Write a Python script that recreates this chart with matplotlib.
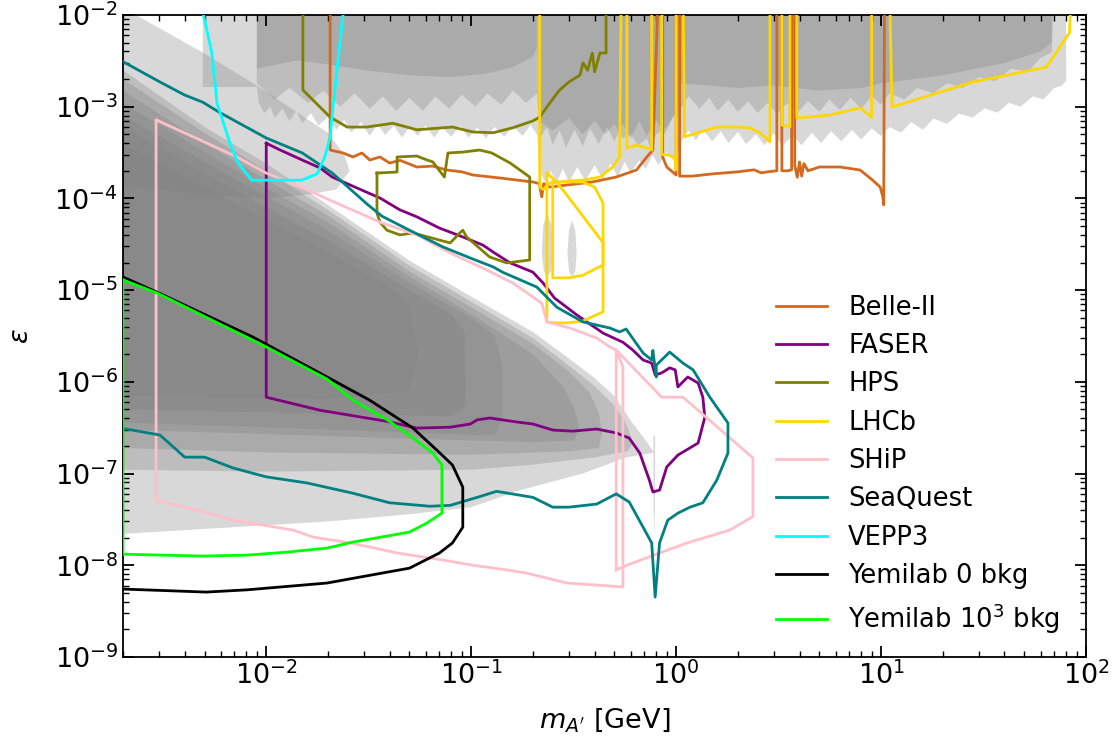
"""Dark photon (A') sensitivity plot: existing limits as grey bands and
projected reaches of several experiments as coloured contours."""
import matplotlib.pyplot as plt
import numpy as np
from matplotlib.ticker import LogLocator, NullFormatter

# ---------------------------------------------------------------------------
# excluded regions (grey), (mass [GeV], epsilon) pairs
# ---------------------------------------------------------------------------
TOP_LIGHT = [(0.0049, 0.02), (0.0049, 1.64e-3), (0.009, 1.64e-3), (0.0092, 1.1e-3), (0.0098, 8.5e-4),
             (0.0105, 1.0e-3), (0.011, 7.5e-4), (0.012, 9.5e-4), (0.013, 7.0e-4), (0.014, 9.0e-4),
             (0.015, 6.6e-4), (0.0165, 8.5e-4), (0.018, 6.2e-4), (0.02, 7.8e-4), (0.022, 5.6e-4),
             (0.024, 7.2e-4), (0.026, 5.2e-4), (0.029, 6.8e-4), (0.032, 4.8e-4), (0.035, 6.5e-4),
             (0.038, 4.9e-4), (0.042, 6.2e-4), (0.046, 4.6e-4), (0.05, 6.0e-4), (0.055, 4.8e-4),
             (0.06, 6.3e-4), (0.066, 4.6e-4), (0.072, 6.0e-4), (0.08, 4.7e-4), (0.088, 6.2e-4),
             (0.097, 4.6e-4), (0.107, 5.9e-4), (0.118, 4.5e-4), (0.13, 6.0e-4), (0.145, 4.7e-4),
             (0.16, 6.1e-4), (0.178, 4.8e-4), (0.195, 6.3e-4), (0.21, 4.9e-4), (0.215, 2.0e-4),
             (0.23, 1.5e-4), (0.245, 2.0e-4), (0.26, 1.45e-4), (0.28, 2.1e-4), (0.3, 1.5e-4),
             (0.33, 2.2e-4), (0.36, 1.55e-4), (0.4, 2.3e-4), (0.44, 1.6e-4), (0.48, 2.4e-4),
             (0.52, 1.7e-4), (0.56, 2.5e-4), (0.6, 1.9e-4), (0.66, 2.6e-4), (0.71, 2.1e-4),
             (0.77, 3.0e-4), (0.82, 2.3e-4), (0.9, 3.2e-4), (0.97, 2.6e-4), (1.03, 3.4e-4),
             (1.08, 4.5e-4), (1.15, 5.5e-4), (1.25, 4.3e-4), (1.35, 5.6e-4), (1.5, 4.2e-4),
             (1.65, 5.4e-4), (1.8, 4.0e-4), (2.0, 5.3e-4), (2.2, 3.9e-4), (2.45, 5.0e-4),
             (2.7, 3.8e-4), (3.0, 5.1e-4), (3.3, 3.7e-4), (3.7, 4.9e-4), (4.1, 3.8e-4),
             (4.6, 5.2e-4), (5.1, 4.0e-4), (5.7, 5.4e-4), (6.4, 4.2e-4), (7.2, 5.6e-4),
             (8.0, 4.4e-4), (9.0, 5.8e-4), (10.0, 4.8e-4), (11.0, 6.0e-4), (12.5, 5.2e-4),
             (14, 6.8e-4), (16, 5.6e-4), (18, 7.4e-4), (21, 6.5e-4), (24, 8.4e-4), (28, 7.6e-4),
             (32, 9.6e-4), (37, 8.6e-4), (42, 1.1e-3), (48, 1.0e-3), (55, 1.3e-3), (62, 1.2e-3),
             (70, 1.6e-3), (76, 1.7e-3), (80, 1.9e-3), (80, 0.02)]
TOP_MID = [(0.009, 0.02), (0.009, 1.8e-3), (0.011, 1.2e-3), (0.013, 1.6e-3), (0.016, 1.1e-3),
           (0.019, 1.5e-3), (0.023, 1.0e-3), (0.027, 1.4e-3), (0.032, 9.5e-4), (0.037, 1.3e-3),
           (0.043, 9.0e-4), (0.05, 1.25e-3), (0.058, 9.0e-4), (0.067, 1.3e-3), (0.078, 9.5e-4),
           (0.09, 1.35e-3), (0.105, 1.0e-3), (0.12, 1.4e-3), (0.14, 1.05e-3), (0.16, 1.5e-3),
           (0.185, 1.1e-3), (0.21, 1.4e-3), (0.215, 4.5e-4), (0.235, 6.0e-4), (0.25, 3.8e-4),
           (0.27, 5.5e-4), (0.29, 3.6e-4), (0.32, 5.6e-4), (0.35, 3.7e-4), (0.38, 5.8e-4),
           (0.42, 3.9e-4), (0.46, 6.0e-4), (0.5, 4.2e-4), (0.55, 6.5e-4), (0.6, 4.5e-4),
           (0.66, 7.0e-4), (0.72, 4.8e-4), (0.8, 7.2e-4), (0.88, 5.0e-4), (0.96, 7.5e-4),
           (1.05, 9.5e-4), (1.15, 1.3e-3), (1.3, 9.5e-4), (1.45, 1.25e-3), (1.6, 9.0e-4),
           (1.8, 1.2e-3), (2.0, 8.8e-4), (2.25, 1.15e-3), (2.5, 8.5e-4), (2.8, 1.1e-3),
           (3.1, 8.3e-4), (3.5, 1.1e-3), (3.9, 8.5e-4), (4.4, 1.15e-3), (5.0, 8.8e-4),
           (5.6, 1.2e-3), (6.3, 9.2e-4), (7.1, 1.25e-3), (8.0, 9.5e-4), (9.0, 1.3e-3),
           (10, 1.05e-3), (11, 1.4e-3), (13, 1.2e-3), (15, 1.6e-3), (18, 1.4e-3), (21, 1.8e-3),
           (25, 1.6e-3), (30, 2.1e-3), (36, 1.9e-3), (43, 2.6e-3), (52, 2.4e-3), (60, 3.4e-3),
           (68, 3.9e-3), (70, 0.02)]
TOP_DARK_LOW = [(0.009, 0.02), (0.009, 2.6e-3), (0.014, 3.2e-3), (0.02, 2.9e-3), (0.03, 2.5e-3),
                (0.05, 2.2e-3), (0.08, 2.1e-3), (0.12, 2.3e-3), (0.16, 2.7e-3), (0.2, 3.5e-3),
                (0.21, 4.5e-3), (0.21, 0.02)]
TOP_DARK_MID = [(0.215, 0.02), (0.215, 7e-4), (0.25, 5.5e-4), (0.3, 7.5e-4), (0.35, 5.0e-4),
                (0.4, 7.0e-4), (0.45, 5.0e-4), (0.5, 6.5e-4), (0.55, 4.5e-4), (0.6, 5.0e-4),
                (0.65, 3.8e-4), (0.72, 4.5e-4), (0.75, 3.5e-4), (0.8, 5e-4), (0.9, 6e-4),
                (1.0, 9e-4), (1.02, 0.02)]
TOP_DARK_HIGH = [(1.05, 0.02), (1.05, 1.8e-3), (2, 1.6e-3), (3, 1.7e-3), (5, 1.5e-3), (8, 1.6e-3),
                 (10, 1.8e-3), (20, 2.2e-3), (40, 3.0e-3), (60, 4.0e-3), (68, 5e-3), (68, 0.02)]

# beam dump style regions
LOBE_E141 = [(0.002, 1.2e-2), (0.0048, 4.0e-3), (0.009, 1.7e-3), (0.02, 5.2e-4), (0.024, 3.0e-4),
             (0.0255, 2.0e-4), (0.022, 1.25e-4), (0.016, 1.1e-4), (0.01, 1.0e-4), (0.005, 1.1e-4),
             (0.002, 1.4e-4)]
DUMP_1 = [(0.002, 2.5e-3), (0.005, 6e-4), (0.01, 2.4e-4), (0.02, 8.5e-5), (0.05, 2.1e-5),
          (0.1, 8.5e-6), (0.2, 3.5e-6), (0.3, 1.8e-6), (0.4, 1.1e-6), (0.5, 7e-7), (0.6, 3.8e-7),
          (0.7, 2.4e-7), (0.76, 1.85e-7), (0.78, 1.7e-7), (0.74, 1.65e-7), (0.57, 1.5e-7),
          (0.35, 1.0e-7), (0.17, 6.5e-8), (0.1, 4.3e-8), (0.05, 3.6e-8), (0.02, 3.0e-8),
          (0.002, 2.2e-8)]
DUMP_2 = [(0.002, 2.0e-3), (0.005, 5.2e-4), (0.01, 2.0e-4), (0.02, 7.5e-5), (0.05, 1.85e-5),
          (0.1, 7.5e-6), (0.2, 3.0e-6), (0.3, 1.5e-6), (0.4, 9e-7), (0.5, 5.5e-7), (0.56, 3.8e-7),
          (0.6, 2.6e-7), (0.61, 2.1e-7), (0.58, 1.75e-7), (0.4, 1.5e-7), (0.2, 1.25e-7),
          (0.1, 1.1e-7), (0.01, 1.05e-7), (0.002, 1.1e-7)]
DUMP_3 = [(0.002, 1.5e-3), (0.005, 4e-4), (0.01, 1.6e-4), (0.02, 6.5e-5), (0.05, 1.6e-5),
          (0.1, 6.5e-6), (0.2, 2.6e-6), (0.3, 1.3e-6), (0.38, 7.5e-7), (0.42, 4.5e-7),
          (0.435, 2.8e-7), (0.42, 1.9e-7), (0.3, 1.75e-7), (0.1, 1.6e-7), (0.01, 1.7e-7),
          (0.002, 1.9e-7)]
DUMP_4 = [(0.002, 1.1e-3), (0.005, 3.2e-4), (0.01, 1.3e-4), (0.02, 5.5e-5), (0.05, 1.4e-5),
          (0.1, 5.5e-6), (0.2, 2.0e-6), (0.28, 9e-7), (0.32, 5e-7), (0.335, 3.2e-7), (0.32, 2.3e-7),
          (0.2, 2.2e-7), (0.05, 2.4e-7), (0.01, 2.7e-7), (0.002, 3.0e-7)]
DUMP_5 = [(0.002, 8e-4), (0.005, 2.5e-4), (0.01, 1.05e-4), (0.02, 4.5e-5), (0.05, 1.2e-5),
          (0.1, 5e-6), (0.13, 3.2e-6), (0.142, 1.5e-6), (0.142, 4e-7), (0.13, 2.6e-7),
          (0.05, 2.8e-7), (0.01, 3.2e-7), (0.002, 3.6e-7)]
DUMP_6 = [(0.002, 6e-4), (0.005, 1.9e-4), (0.01, 8e-5), (0.02, 3.5e-5), (0.05, 1e-5), (0.08, 5.5e-6),
          (0.093, 3.5e-6), (0.094, 5.5e-7), (0.08, 4.2e-7), (0.02, 4.5e-7), (0.002, 5e-7)]
DUMP_7 = [(0.002, 4e-4), (0.005, 1.3e-4), (0.01, 6e-5), (0.02, 2.6e-5), (0.04, 1.1e-5),
          (0.05, 7e-6), (0.055, 2e-6), (0.05, 8e-7), (0.02, 6.5e-7), (0.002, 7e-7)]
BLOB_1 = [(0.235, 6.9e-5), (0.246, 5.2e-5), (0.25, 2.6e-5), (0.245, 1.6e-5), (0.235, 1.4e-5),
          (0.226, 1.6e-5), (0.221, 2.6e-5), (0.225, 5.2e-5)]
BLOB_2 = [(0.311, 5.8e-5), (0.322, 4.5e-5), (0.327, 2.5e-5), (0.322, 1.6e-5), (0.311, 1.4e-5),
          (0.3, 1.6e-5), (0.295, 2.5e-5), (0.3, 4.5e-5)]
SPIKE = [(0.775, 2.6e-7), (0.79, 2.6e-7), (0.788, 4e-8), (0.782, 2.2e-8), (0.776, 4e-8)]

GREY_REGIONS = [TOP_LIGHT, TOP_MID, TOP_DARK_LOW, TOP_DARK_MID, TOP_DARK_HIGH, LOBE_E141,
                DUMP_1, DUMP_2, DUMP_3, DUMP_4, DUMP_5, DUMP_6, DUMP_7, BLOB_1, BLOB_2, SPIKE]

# ---------------------------------------------------------------------------
# projected sensitivities
# ---------------------------------------------------------------------------
BELLE2 = [(0.0205, 0.02), (0.0205, 3.37e-4), (0.0237, 3.13e-4), (0.0265, 2.83e-4), (0.0293, 3.13e-4),
          (0.032, 2.62e-4), (0.0359, 2.83e-4), (0.040, 2.43e-4), (0.045, 2.6e-4), (0.0543, 2.2e-4),
          (0.065, 2.25e-4), (0.076, 2.04e-4), (0.09, 1.95e-4), (0.102, 1.8e-4), (0.138, 1.67e-4),
          (0.2, 1.51e-4), (0.215, 1.45e-4), (0.221, 1.04e-4), (0.226, 1.45e-4), (0.242, 1.33e-4),
          (0.293, 1.4e-4), (0.39, 1.51e-4), (0.51, 1.71e-4), (0.64, 2.04e-4), (0.72, 2.83e-4),
          (0.77, 3.37e-4), (0.82, 0.02), (0.86, 0.02), (0.86, 2.83e-4), (0.90, 2.2e-4),
          (1.0, 1.8e-4), (1.0, 0.02), (1.04, 0.02), (1.04, 1.75e-4), (1.2, 1.75e-4),
          (1.5, 1.85e-4), (2.0, 1.95e-4), (2.4, 2.05e-4), (2.6, 1.9e-4), (2.8, 1.95e-4),
          (3.1, 2.0e-4), (3.1, 0.02), (3.28, 0.02), (3.28, 2.0e-4), (3.5, 2.0e-4), (3.66, 2.05e-4),
          (3.66, 0.02), (3.79, 0.02), (3.79, 2.3e-4), (3.9, 1.7e-4), (4.0, 2.5e-4), (4.1, 1.75e-4),
          (4.2, 2.4e-4), (4.4, 2.0e-4), (5.0, 2.2e-4), (6.3, 2.2e-4), (7.9, 2.04e-4),
          (9.1, 1.58e-4), (9.9, 1.33e-4), (10.2, 1.04e-4), (10.3, 8.5e-5), (10.4, 0.02)]
FASER = [(0.01, 4.0e-4), (0.0117, 3.37e-4), (0.015, 2.62e-4), (0.0183, 2.15e-4), (0.021, 1.71e-4),
         (0.0277, 1.3e-4), (0.0359, 1.01e-4), (0.0449, 7.5e-5), (0.0543, 6.3e-5), (0.07, 4.75e-5),
         (0.091, 3.8e-5), (0.114, 3.1e-5), (0.128, 2.6e-5), (0.155, 1.98e-5), (0.2, 1.57e-5),
         (0.224, 1.2e-5), (0.255, 8.2e-6), (0.328, 5.35e-6), (0.44, 3.4e-6), (0.55, 2.7e-6),
         (0.615, 2.22e-6), (0.69, 1.73e-6), (0.76, 1.6e-6), (0.79, 1.19e-6), (0.85, 1.25e-6),
         (0.93, 1.42e-6), (0.99, 1.35e-6), (1.02, 8.8e-7), (1.14, 1.13e-6), (1.28, 9.7e-7),
         (1.35, 6.8e-7), (1.38, 4.1e-7), (1.28, 2.15e-7), (1.02, 1.59e-7), (0.90, 1.18e-7),
         (0.83, 6.6e-8), (0.77, 6.3e-8), (0.74, 8.5e-8), (0.665, 1.67e-7), (0.59, 2.44e-7),
         (0.51, 2.77e-7), (0.41, 3.06e-7), (0.313, 2.9e-7), (0.25, 2.98e-7), (0.2, 3.47e-7),
         (0.167, 3.65e-7), (0.123, 4.03e-7), (0.107, 3.85e-7), (0.099, 3.47e-7), (0.079, 3.2e-7),
         (0.0543, 3.13e-7), (0.039, 3.7e-7), (0.0183, 4.9e-7), (0.01, 6.8e-7), (0.01, 4.0e-4)]
HPS_HIGH = [(0.0151, 0.02), (0.0151, 1.52e-3), (0.0205, 7.7e-4), (0.0248, 6.0e-4), (0.031, 6.0e-4),
            (0.0415, 6.6e-4), (0.0543, 5.6e-4), (0.081, 6.0e-4), (0.102, 5.3e-4), (0.128, 5.2e-4),
            (0.16, 5.9e-4), (0.2, 7.0e-4), (0.216, 7.7e-4), (0.242, 1.1e-3), (0.27, 1.52e-3),
            (0.30, 1.86e-3), (0.34, 2.22e-3), (0.351, 3.0e-3), (0.37, 2.5e-3), (0.39, 3.85e-3),
            (0.40, 2.4e-3), (0.425, 3.85e-3), (0.455, 3.85e-3), (0.455, 0.02)]
HPS_LOW = [(0.0347, 1.89e-4), (0.0435, 1.94e-4), (0.0435, 2.83e-4), (0.0543, 2.9e-4), (0.061, 2.62e-4),
           (0.065, 2.5e-4), (0.074, 1.71e-4), (0.077, 3.13e-4), (0.091, 3.2e-4), (0.11, 3.37e-4),
           (0.126, 3.13e-4), (0.155, 2.43e-4), (0.193, 1.71e-4), (0.193, 2.13e-5), (0.149, 1.98e-5),
           (0.123, 2.3e-5), (0.095, 3.8e-5), (0.091, 4.5e-5), (0.088, 4.2e-5), (0.079, 3.27e-5),
           (0.052, 4.2e-5), (0.0449, 4.0e-5), (0.0388, 4.5e-5), (0.0359, 5.5e-5), (0.0347, 6.9e-5),
           (0.0347, 1.89e-4)]
LHCB_HIGH = [(0.216, 0.02), (0.216, 1.33e-4), (0.225, 1.25e-4), (0.242, 1.47e-4), (0.3, 1.55e-4),
             (0.351, 1.58e-4), (0.425, 1.71e-4), (0.49, 2.2e-4), (0.53, 2.83e-4), (0.54, 0.02),
             (0.575, 0.02), (0.575, 3.55e-4), (0.64, 3.8e-4), (0.72, 3.55e-4), (0.76, 3.37e-4),
             (0.76, 0.02), (0.85, 0.02), (0.85, 3.0e-4), (0.9, 3.0e-4), (0.99, 2.76e-4),
             (1.0, 2.04e-4), (1.0, 0.02), (1.08, 0.02), (1.10, 4.7e-4), (1.58, 6.0e-4),
             (2.05, 6.0e-4), (2.3, 5.85e-4), (2.56, 5.2e-4), (2.87, 4.15e-4), (2.87, 0.02),
             (3.28, 0.02), (3.28, 6.3e-4), (3.59, 6.0e-4), (3.59, 0.02), (3.88, 0.02),
             (3.88, 7.5e-4), (5.6, 8.1e-4), (7.9, 9.7e-4), (9.0, 7.7e-4), (9.0, 0.02), (11.0, 0.02),
             (11.3, 9.9e-4), (28, 1.86e-3), (64, 2.7e-3), (83, 6.4e-3), (85, 0.02)]
LHCB_LOW_A = [(0.234, 1.89e-4), (0.234, 4.5e-6), (0.25, 4.4e-6), (0.30, 4.4e-6), (0.35, 4.6e-6),
              (0.44, 5.8e-6), (0.44, 3.3e-5), (0.28, 1.24e-4), (0.25, 1.65e-4), (0.234, 1.89e-4)]
LHCB_LOW_B = [(0.25, 1.51e-4), (0.25, 1.36e-5), (0.30, 1.36e-5), (0.35, 1.45e-5), (0.44, 1.88e-5),
              (0.44, 8.9e-5), (0.40, 1.33e-4), (0.35, 1.51e-4), (0.29, 1.51e-4), (0.25, 1.51e-4)]
SHIP_MAIN = [(2.9e-3, 5.1e-8), (2.9e-3, 7.2e-4), (7.2e-3, 2.83e-4), (0.01, 1.89e-4), (0.0158, 1.24e-4),
             (0.022, 8.9e-5), (0.0286, 6.9e-5), (0.0359, 5.5e-5), (0.0543, 4.0e-5), (0.079, 2.54e-5),
             (0.119, 1.66e-5), (0.16, 1.19e-5), (0.221, 7.2e-6), (0.234, 4.5e-6), (0.303, 3.86e-6),
             (0.41, 3.0e-6), (0.475, 2.4e-6), (0.51, 2.22e-6), (0.55, 1.45e-6), (0.55, 5.8e-9),
             (0.293, 6.4e-9), (0.187, 8.2e-9), (0.149, 8.9e-9), (0.102, 1.0e-8), (0.073, 1.14e-8),
             (0.0435, 1.36e-8), (0.032, 1.58e-8), (0.0256, 1.75e-8), (0.0169, 2.03e-8),
             (0.0135, 2.42e-8), (6.9e-3, 3.1e-8), (4.6e-3, 4.0e-8), (2.9e-3, 5.1e-8)]
SHIP_HEAVY = [(0.51, 8.9e-9), (0.51, 2.22e-6), (0.85, 6.8e-7), (1.08, 6.8e-7), (2.37, 1.48e-7),
              (2.37, 3.4e-8), (1.83, 2.42e-8), (1.13, 1.75e-8), (0.83, 1.36e-8), (0.575, 1.0e-8),
              (0.51, 8.9e-9)]
SEAQUEST = [(2.0e-3, 3.1e-3), (3.03e-3, 1.86e-3), (4.0e-3, 1.34e-3), (4.9e-3, 1.12e-3), (5.9e-3, 8.7e-4),
            (0.01, 4.56e-4), (0.015, 3.13e-4), (0.021, 1.89e-4), (0.031, 8.7e-5), (0.0367, 6.4e-5),
            (0.05, 4.5e-5), (0.073, 2.95e-5), (0.099, 2.24e-5), (0.128, 1.79e-5), (0.143, 1.56e-5),
            (0.209, 1.08e-5), (0.262, 6.5e-6), (0.351, 4.5e-6), (0.475, 3.86e-6), (0.53, 3.5e-6),
            (0.57, 3.77e-6), (0.69, 2.06e-6), (0.76, 1.73e-6), (0.77, 2.2e-6), (0.80, 1.13e-6),
            (0.80, 1.52e-6), (0.93, 2.11e-6), (1.08, 1.6e-6), (1.21, 1.35e-6), (1.46, 6.8e-7),
            (1.79, 3.56e-7), (1.79, 1.67e-7), (1.58, 8.5e-8), (1.35, 4.8e-8), (1.17, 4.3e-8),
            (1.02, 3.7e-8), (0.91, 3.1e-8), (0.83, 1.75e-8), (0.79, 4.5e-9), (0.76, 1.75e-8),
            (0.69, 2.6e-8), (0.59, 4.9e-8), (0.51, 6.0e-8), (0.41, 4.65e-8), (0.30, 4.3e-8),
            (0.25, 4.3e-8), (0.20, 5.5e-8), (0.133, 6.4e-8), (0.107, 5.5e-8), (0.079, 4.5e-8),
            (0.063, 4.4e-8), (0.040, 4.8e-8), (0.0265, 6.1e-8), (0.0158, 7.9e-8), (0.01, 9.2e-8),
            (6.9e-3, 1.15e-7), (5.0e-3, 1.51e-7), (4.0e-3, 1.51e-7), (3.03e-3, 2.63e-7),
            (2.0e-3, 3.1e-7)]
VEPP3 = [(4.85e-3, 1.2e-2), (5.43e-3, 3.85e-3), (5.75e-3, 1.1e-3), (6.65e-3, 4.0e-4), (7.28e-3, 2.43e-4),
         (8.5e-3, 1.58e-4), (1.49e-2, 1.58e-4), (1.77e-2, 1.85e-4), (1.93e-2, 2.83e-4),
         (2.05e-2, 4.68e-4), (2.11e-2, 9.2e-4), (2.24e-2, 3.2e-3), (2.39e-2, 1.2e-2)]
YEMILAB_0 = [(2e-3, 1.39e-5), (2.93e-3, 9.5e-6), (8.6e-3, 3.08e-6), (1.98e-2, 1.13e-6), (3.2e-2, 6.3e-7),
             (5.2e-2, 3.13e-7), (6.8e-2, 1.8e-7), (8.1e-2, 1.24e-7), (9.1e-2, 7.1e-8), (9.1e-2, 2.6e-8),
             (8.1e-2, 1.75e-8), (7.0e-2, 1.36e-8), (5.0e-2, 9.3e-9), (1.98e-2, 6.4e-9),
             (8.1e-3, 5.4e-9), (5.1e-3, 5.1e-9), (2e-3, 5.5e-9)]
YEMILAB_1E3 = [(2e-3, 1.29e-5), (2.93e-3, 9.3e-6), (0.01, 2.4e-6), (1.98e-2, 1.07e-6), (2.65e-2, 6.3e-7),
               (3.9e-2, 3.85e-7), (5.2e-2, 2.44e-7), (6.5e-2, 1.67e-7), (7.2e-2, 1.24e-7),
               (7.2e-2, 3.7e-8), (6.1e-2, 2.9e-8), (5.0e-2, 2.3e-8), (2.65e-2, 1.79e-8),
               (1.98e-2, 1.54e-8), (1.26e-2, 1.39e-8), (8.1e-3, 1.29e-8), (4.9e-3, 1.26e-8),
               (2e-3, 1.32e-8), (2e-3, 1.29e-5)]

# (label, colour, list of curve pieces)
EXPERIMENTS = [
    ("Belle-II", "chocolate", [BELLE2]),
    ("FASER", "purple", [FASER]),
    ("HPS", "olive", [HPS_HIGH, HPS_LOW]),
    ("LHCb", "gold", [LHCB_HIGH, LHCB_LOW_A, LHCB_LOW_B]),
    ("SHiP", "pink", [SHIP_MAIN, SHIP_HEAVY]),
    ("SeaQuest", "teal", [SEAQUEST]),
    ("VEPP3", "cyan", [VEPP3]),
    ("Yemilab 0 bkg", "black", [YEMILAB_0]),
    (r"Yemilab $10^3$ bkg", "lime", [YEMILAB_1E3]),
]

X_TICKS = [1e-2, 1e-1, 1e0, 1e1, 1e2]
Y_TICKS = [1e-9, 1e-8, 1e-7, 1e-6, 1e-5, 1e-4, 1e-3, 1e-2]

FONT = 19.5

fig = plt.figure(figsize=(11.18, 7.42), dpi=100)
ax = fig.add_axes([0.110, 0.1146, 0.8614, 0.8652])

for region in GREY_REGIONS:
    pts = np.array(region)
    ax.fill(pts[:, 0], pts[:, 1], facecolor="gray", alpha=0.3, edgecolor="none", zorder=1)

for label, colour, pieces in EXPERIMENTS:
    for i, piece in enumerate(pieces):
        pts = np.array(piece)
        ax.plot(pts[:, 0], pts[:, 1], color=colour, lw=2, zorder=3,
                label=label if i == 0 else None)

ax.set_xscale("log")
ax.set_yscale("log")
ax.set_xticks(X_TICKS)
ax.set_yticks(Y_TICKS)
ax.set_xlim(2e-3, 1e2)
ax.set_ylim(1e-9, 1e-2)

for axis in (ax.xaxis, ax.yaxis):
    axis.set_minor_locator(LogLocator(base=10, subs=np.arange(2, 10), numticks=20))
    axis.set_minor_formatter(NullFormatter())

ax.tick_params(which="both", direction="in", top=True, right=True, labelsize=FONT)
ax.tick_params(which="major", length=8, width=1.3)
ax.tick_params(which="minor", length=4, width=1.0)
for spine in ax.spines.values():
    spine.set_linewidth(1.3)

ax.set_xlabel(r"$m_{A'}$ [GeV]", fontsize=FONT, labelpad=11)
ax.set_ylabel(r"$\varepsilon$", fontsize=FONT, labelpad=15)

ax.legend(loc="lower right", frameon=False, fontsize=18.5, handlelength=2.0,
          labelspacing=0.48, bbox_to_anchor=(0.997, -0.003))

fig.savefig("out.png", dpi=100)
